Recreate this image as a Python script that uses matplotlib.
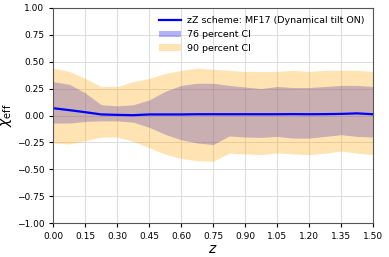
import matplotlib.pyplot as plt
import numpy as np

z = [0.0, 0.075, 0.15, 0.225, 0.3, 0.375, 0.45, 0.525, 0.6, 0.675, 0.75,
     0.825, 0.9, 0.975, 1.05, 1.125, 1.2, 1.275, 1.35, 1.425, 1.5]
median = [0.068, 0.05, 0.031, 0.01, 0.006, 0.003, 0.01, 0.01, 0.01, 0.012, 0.012,
          0.012, 0.012, 0.012, 0.012, 0.013, 0.012, 0.013, 0.015, 0.02, 0.012]
upper76 = [0.315, 0.29, 0.21, 0.10, 0.09, 0.10, 0.145, 0.225, 0.28, 0.30, 0.30,
           0.28, 0.265, 0.25, 0.27, 0.26, 0.26, 0.27, 0.28, 0.28, 0.27]
lower76 = [-0.07, -0.07, -0.055, -0.05, -0.05, -0.062, -0.11, -0.175, -0.225, -0.255, -0.27,
           -0.19, -0.2, -0.203, -0.194, -0.21, -0.21, -0.194, -0.178, -0.194, -0.2]
upper90 = [0.44, 0.41, 0.345, 0.27, 0.27, 0.315, 0.345, 0.39, 0.42, 0.44, 0.43,
           0.42, 0.41, 0.41, 0.41, 0.42, 0.41, 0.42, 0.42, 0.42, 0.41]
lower90 = [-0.256, -0.265, -0.234, -0.2, -0.2, -0.24, -0.3, -0.36, -0.40, -0.42, -0.425,
           -0.35, -0.357, -0.364, -0.348, -0.357, -0.364, -0.35, -0.33, -0.35, -0.364]

fig = plt.figure(figsize=(3.89, 2.57), dpi=100)
ax = fig.add_axes([0.137, 0.132, 0.822, 0.837])

ax.plot(z, median, color='blue', lw=1.6, label='zZ scheme: MF17 (Dynamical tilt ON)')
ax.fill_between(z, lower76, upper76, color='blue', alpha=0.3, lw=0, label='76 percent CI')
ax.fill_between(z, lower90, upper90, color='orange', alpha=0.3, lw=0, label='90 percent CI')

ax.set_xlim(0, 1.5)
ax.set_ylim(-1, 1)
ax.set_xticks(np.arange(0, 1.51, 0.15))
ax.set_yticks(np.arange(-1, 1.01, 0.25))
ax.tick_params(labelsize=6.5, length=3, width=0.8)
ax.grid(True, color='#dddddd', lw=0.7)
ax.set_axisbelow(True)
for s in ax.spines.values():
    s.set_color('#555555')

ax.set_xlabel('$z$', fontsize=10, labelpad=1)
ax.set_ylabel(r'$\chi_{\rm eff}$', fontsize=10, labelpad=2)
ax.legend(loc='upper right', frameon=False, fontsize=6.8, handlelength=2.4,
          handletextpad=0.6, borderaxespad=0.5, labelspacing=0.5)

plt.savefig('out.png', dpi=100)
